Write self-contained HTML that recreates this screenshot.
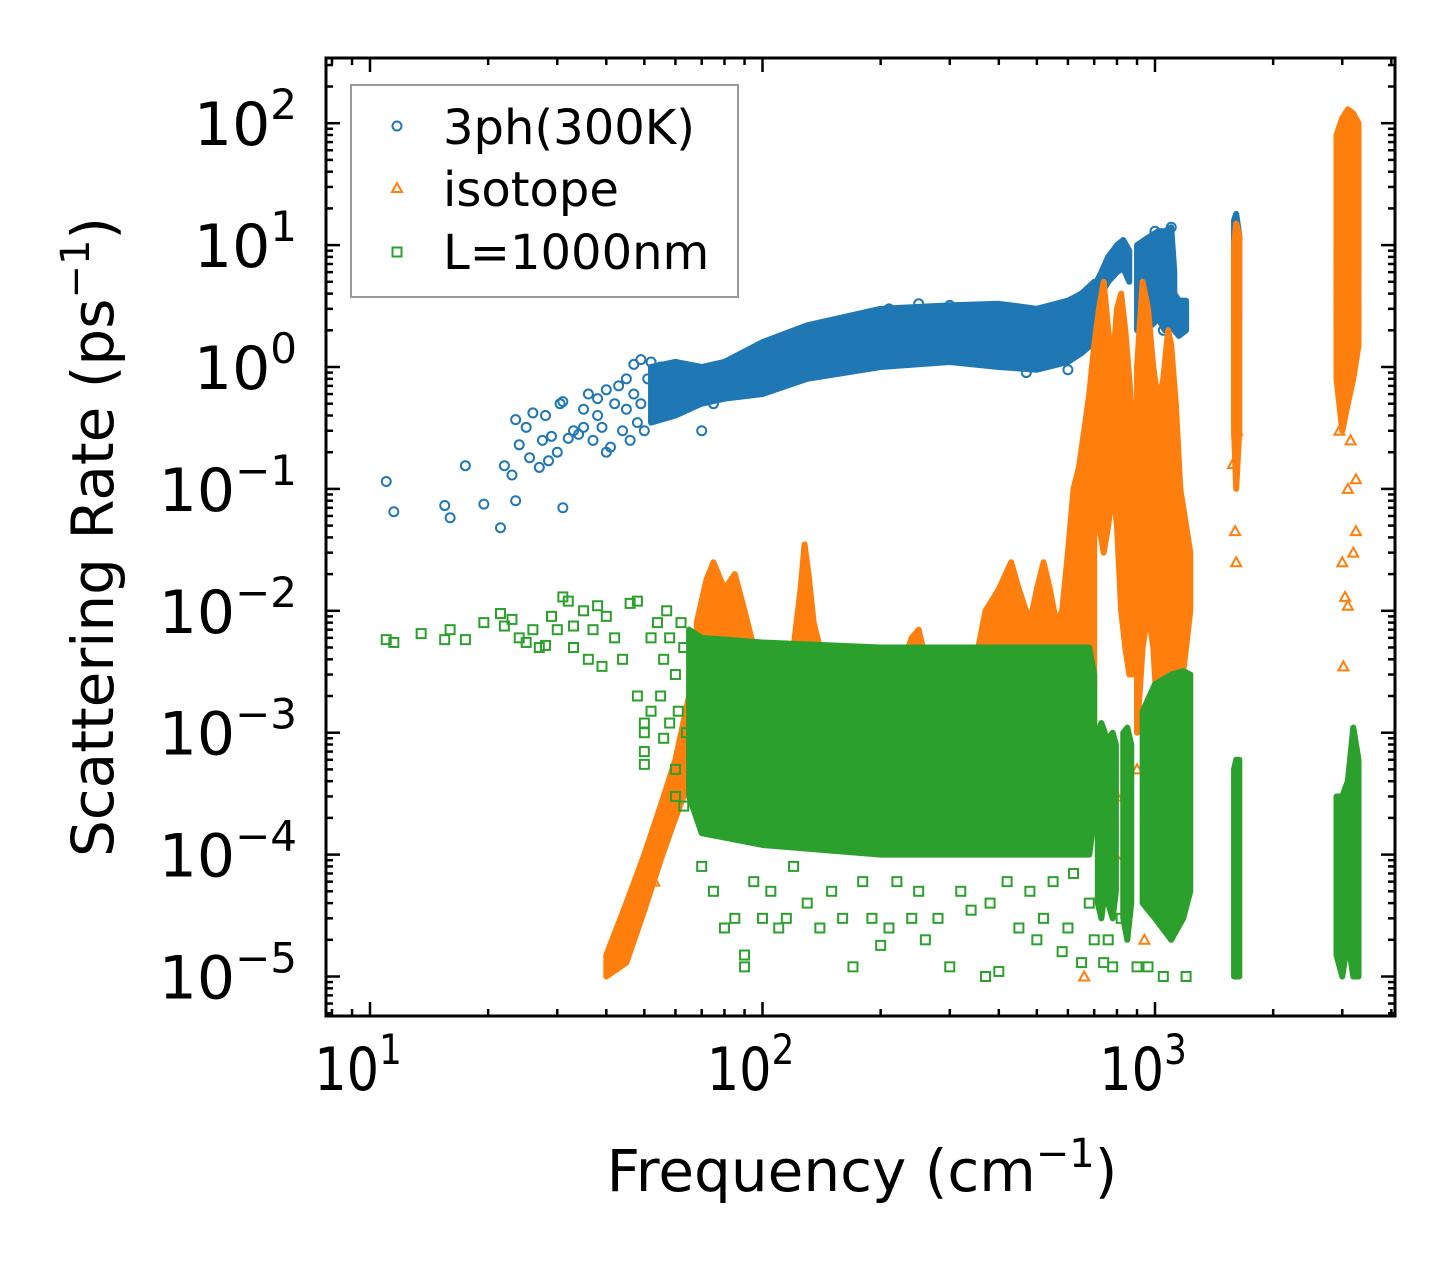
<!DOCTYPE html>
<html><head><meta charset="utf-8"><style>
html,body{margin:0;padding:0;background:#fff;}
svg{display:block;font-family:"DejaVu Sans","Liberation Sans",sans-serif;}
</style></head><body>
<svg id="chart" width="1455" height="1265" viewBox="0 0 1455 1265" xmlns="http://www.w3.org/2000/svg">
<rect width="1455" height="1265" fill="#fff"/>
<defs><clipPath id="plotclip"><rect x="326" y="58" width="1069" height="958"/></clipPath></defs>
<g id="marks" clip-path="url(#plotclip)"></g>
<g id="axes"></g>
<g id="legend">
<rect x="351" y="85" width="387" height="212" fill="#fff" stroke="#999" stroke-width="2"/>
<circle cx="397" cy="126" r="4.5" fill="none" stroke="#1f77b4" stroke-width="2"/>
<text x="443" y="144" font-size="48">3ph(300K)</text>
<polygon points="397,183 402,192 392,192" fill="none" stroke="#ff7f0e" stroke-width="2"/>
<text x="443" y="206" font-size="48">isotope</text>
<rect x="392.5" y="247.5" width="9" height="9" fill="none" stroke="#2ca02c" stroke-width="2"/>
<text x="443" y="269" font-size="48">L=1000nm</text>
</g>
</svg>
<script>
// ---- data ----
const blueBandF  = [52,60,70,80,100,130,200,300,400,500,600,650,700];
const blueBandHi = [1.0,1.1,1.0,1.1,1.6,2.2,3.0,3.2,3.3,3.0,3.5,4.0,5.0];
const blueBandLo = [0.35,0.4,0.5,0.55,0.6,0.8,1.0,1.1,1.0,0.95,1.1,1.3,1.6];
const blueSpikes = [
  {f:[710,730,760,800,830,860], hi:[5,6,8,10,11,9], lo:[3,4,5,6,6.5,5]},
  {f:[900,940,980,1020,1060,1100,1120], hi:[10,11,12,13,13,14,6], lo:[2,2.5,2.2,2.5,2.0,2.2,2]},
  {f:[1120,1150,1200], hi:[4,3.5,3.5], lo:[2,1.8,2]},
  {f:[1590,1610,1640], hi:[16,18,12], lo:[2,2,2.5]},
  {f:[2900,3000,3100,3200,3300], hi:[10,12,15,10,6], lo:[2,1.5,2,3,4]}
];
const bluePts = [[11,0.115],[11.5,0.065],[15.5,0.073],[16,0.058],[17.5,0.155],[19.5,0.075],[21.5,0.048],[22,0.155],[23,0.13],[23.5,0.08],[23.5,0.37],[24,0.23],[25,0.32],[25.5,0.18],[26,0.42],[27,0.15],[27.5,0.25],[28,0.4],[28.5,0.17],[29,0.27],[30,0.2],[30.5,0.5],[31,0.07],[31,0.52],[32,0.26],[33,0.3],[34,0.28],[35,0.32],[35,0.45],[36,0.6],[37,0.25],[38,0.4],[38,0.55],[39,0.32],[40,0.2],[40,0.65],[41,0.22],[42,0.5],[43,0.7],[44,0.3],[45,0.8],[45,0.45],[46,0.25],[47,1.05],[47,0.6],[48,0.35],[49,1.15],[49,0.5],[50,0.3],[51,0.8],[52,1.1],[55,1.0],[70,0.3],[60,1.05],[75,0.5],[90,1.2],[110,1.6],[150,2.3],[210,3.0],[250,3.3],[300,3.2],[470,0.9],[600,0.95],[650,3.8],[700,0.95],[1000,13],[1100,14],[1050,2.0],[1170,2.3]];
const orangeBands = [
  {f:[40,45,50,55,60,65,68], hi:[1.5e-5,4e-5,1e-4,2.5e-4,6e-4,2e-3,6e-3], lo:[1e-5,1.3e-5,3.5e-5,9e-5,2e-4,4e-4,6e-4]},
  {f:[68,72,75,80,85,90,95,100,110,120,125,128,131,135,140,150,170,200,230,240,250,260,280,300,350,370,400,430,450,480,500,520,540,560,580,600,620,640,660,680,700],
   hi:[8e-3,1.8e-2,2.5e-2,1.5e-2,2e-2,1e-2,5e-3,4e-3,4e-3,5e-3,1.5e-2,3.5e-2,2e-2,8e-3,5e-3,4e-3,4e-3,4e-3,4e-3,6e-3,7e-3,4e-3,4e-3,4e-3,4e-3,1e-2,1.5e-2,2.5e-2,1.5e-2,8e-3,1.5e-2,2.5e-2,1.5e-2,8e-3,1e-2,3e-2,0.1,0.15,0.3,0.6,1.5],
   lo:[5e-4,3e-4,3e-4,2e-4,2e-4,2e-4,2e-4,2e-4,2e-4,2e-4,2e-4,2e-4,2e-4,2e-4,2e-4,2e-4,2e-4,2e-4,2e-4,2e-4,2e-4,2e-4,2e-4,2e-4,2e-4,2e-4,2e-4,2e-4,2e-4,2e-4,2e-4,2e-4,2e-4,2e-4,2e-4,2e-4,2e-4,2e-4,2e-4,2e-4,2e-4]},
  {f:[700,720,740,760,780,800,820,840,860,880], hi:[1.5,3,5,2,1,3,4,2,0.8,0.3], lo:[0.08,0.05,0.03,0.05,0.1,0.05,0.01,0.005,0.003,0.003]},
  {f:[900,930,960,990,1020,1050,1080,1100,1130,1160,1200,1230], hi:[1,5,3,1,0.5,0.8,2,1.5,0.5,0.1,0.05,0.03], lo:[1e-3,5e-3,1e-2,5e-3,1e-3,2e-3,1e-3,3e-4,3e-4,2e-3,5e-3,1e-2]},
  {f:[1590,1610,1640], hi:[10,15,12], lo:[0.3,0.1,0.3]},
  {f:[2900,3000,3100,3200,3300], hi:[80,110,130,120,100], lo:[0.8,0.3,0.5,0.8,1.5]}
];
const orangePts = [[42,1.3e-5],[44,2.5e-5],[47,4e-5],[52,1.2e-4],[55,1.8e-4],[58,3e-4],[48,6e-5],[50,9e-5],[53,6e-5],[790,1e-4],[800,3e-4],[780,2e-4],[900,5e-4],[1020,2e-4],[940,2e-5],[660,1e-5],[950,2e-4],[1600,0.045],[1610,0.025],[1580,0.16],[1620,0.3],[3000,0.025],[3050,0.013],[3100,0.011],[3020,3.5e-3],[3200,0.03],[3250,0.045],[3150,0.25],[3100,0.1],[2950,0.3],[3250,0.12]];
const greenBands = [
  {f:[65,70,100,200,400,600,680,700], hi:[7e-3,6e-3,5.5e-3,5e-3,5e-3,5e-3,5e-3,3e-3], lo:[3e-4,1.5e-4,1.2e-4,1e-4,1e-4,1e-4,1e-4,2e-4]},
  {f:[715,730,745], hi:[1e-3,1.2e-3,1e-3], lo:[4e-5,3e-5,5e-5]},
  {f:[760,780,795], hi:[9e-4,1e-3,8e-4], lo:[4e-5,3e-5,5e-5]},
  {f:[830,850,870], hi:[1e-3,1.1e-3,8e-4], lo:[3e-5,2e-5,4e-5]},
  {f:[930,1000,1100,1180,1230], hi:[1.5e-3,2.5e-3,3e-3,3.2e-3,3e-3], lo:[4e-5,3e-5,2e-5,3e-5,5e-5]},
  {f:[1590,1610,1640], hi:[5e-4,6e-4,6e-4], lo:[1e-5,1e-5,1e-5]},
  {f:[2900,3000,3100,3200,3300], hi:[3e-4,3e-4,4e-4,1.1e-3,6e-4], lo:[1.5e-5,1e-5,2e-5,1e-5,1e-5]}
];
const greenPts = [[11,5.8e-3],[11.5,5.5e-3],[13.5,6.5e-3],[15.5,5.8e-3],[16,7e-3],[17.5,5.8e-3],[19.5,8e-3],[21.5,9.5e-3],[22,7.5e-3],[23,8.5e-3],[24,6e-3],[25,5.5e-3],[26,7e-3],[27,5e-3],[28,5.2e-3],[29,9e-3],[30,7e-3],[31,1.3e-2],[32,1.2e-2],[33,7.5e-3],[33,5e-3],[35,1e-2],[36,4e-3],[37,7e-3],[38,1.1e-2],[39,3.5e-3],[40,9e-3],[42,6e-3],[44,4e-3],[46,1.15e-2],[48,1.2e-2],[48,2e-3],[50,1e-3],[50,1.2e-3],[50,5.5e-4],[50,7e-4],[52,1.5e-3],[55,2e-3],[56,9e-4],[57,1e-2],[60,5e-4],[60,3e-4],[62,8e-3],[63,2.5e-4],[52,6e-3],[54,8e-3],[56,4e-3],[58,6e-3],[60,3e-3],[61,1.5e-3],[63,5e-3],[64,1e-3],[58,1.2e-3],
[70,8e-5],[75,5e-5],[80,2.5e-5],[85,3e-5],[90,1.5e-5],[90,1.2e-5],[95,6e-5],[100,3e-5],[105,5e-5],[110,2.5e-5],[115,3e-5],[120,8e-5],[130,4e-5],[140,2.5e-5],[150,5e-5],[160,3e-5],[170,1.2e-5],[180,6e-5],[190,3e-5],[200,1.8e-5],[210,2.5e-5],[220,6e-5],[240,3e-5],[250,5e-5],[260,2e-5],[280,3e-5],[300,1.2e-5],[320,5e-5],[340,3.5e-5],[370,1e-5],[380,4e-5],[400,1.1e-5],[420,6e-5],[450,2.5e-5],[480,5e-5],[500,2e-5],[520,3e-5],[550,6e-5],[580,1.6e-5],[600,2.5e-5],[620,7e-5],[650,1.3e-5],[680,4e-5],[700,2e-5],[740,1.3e-5],[780,1.2e-5],[820,3e-5],[900,1.2e-5],[960,1.2e-5],[1050,1e-5],[1200,1e-5],[760,2e-5]];

const X0=370, XD=392.5, Y0=367, YD=121.9;
function xs(f){return X0+(Math.log10(f)-1)*XD;}
function ys(v){return Y0-Math.log10(v)*YD;}

const NS="http://www.w3.org/2000/svg";
const marks=document.getElementById('marks');
function mk(tag,attrs,parent){const e=document.createElementNS(NS,tag);for(const k in attrs)e.setAttribute(k,attrs[k]);parent.appendChild(e);return e;}

function drawBand(b,color,name){
  let pts=[];
  for(let i=0;i<b.f.length;i++)pts.push(xs(b.f[i])+','+ys(b.hi[i]));
  for(let i=b.f.length-1;i>=0;i--)pts.push(xs(b.f[i])+','+ys(b.lo[i]));
  const p=mk('polygon',{points:pts.join(' '),fill:color,stroke:color,'stroke-width':6,'stroke-linejoin':'round'},marks);
  
  
}
function drawPt(d,color,shape,name){
  const x=xs(d[0]),y=ys(d[1]);let e;
  if(shape==='c')e=mk('circle',{cx:x,cy:y,r:4.5,fill:'none',stroke:color,'stroke-width':2},marks);
  else if(shape==='t')e=mk('polygon',{points:`${x},${y-5} ${x+5},${y+4} ${x-5},${y+4}`,fill:'none',stroke:color,'stroke-width':2},marks);
  else e=mk('rect',{x:x-4.5,y:y-4.5,width:9,height:9,fill:'none',stroke:color,'stroke-width':2},marks);
  
  
}
const B='#1f77b4',O='#ff7f0e',G='#2ca02c';
drawBand({f:blueBandF,hi:blueBandHi,lo:blueBandLo},B,'3ph-band');
blueSpikes.forEach(b=>drawBand(b,B,'3ph-spike'));
bluePts.forEach(d=>drawPt(d,B,'c','3ph-point'));
orangeBands.forEach(b=>drawBand(b,O,'isotope-band'));
orangePts.forEach(d=>drawPt(d,O,'t','isotope-point'));
greenBands.forEach(b=>drawBand(b,G,'boundary-band'));
greenPts.forEach(d=>drawPt(d,G,'s','boundary-point'));

// ---- axes ----
const axes=document.getElementById('axes');
const L=326,R=1395,T=58,Bt=1016;
const frame=mk('rect',{x:L,y:T,width:R-L,height:Bt-T,fill:'none',stroke:'#000','stroke-width':3},axes);


const xTickExp=[1,2,3];
const yTickExp=[2,1,0,-1,-2,-3,-4,-5];
for(let d=0;d<=3;d++)for(let m=1;m<=9;m++){
  const f=m*Math.pow(10,d);const x=xs(f);if(x<L+1||x>R-1)continue;
  const len=m===1?14:7;
  mk('line',{x1:x,y1:Bt,x2:x,y2:Bt-len,stroke:'#000','stroke-width':2.5},axes);
  mk('line',{x1:x,y1:T,x2:x,y2:T+len,stroke:'#000','stroke-width':2.5},axes);
}
for(let d=-6;d<=2;d++)for(let m=1;m<=9;m++){
  const v=m*Math.pow(10,d);const y=ys(v);if(y<T+1||y>Bt-1)continue;
  const len=m===1?14:7;
  mk('line',{x1:L,y1:y,x2:L+len,y2:y,stroke:'#000','stroke-width':2.5},axes);
  mk('line',{x1:R,y1:y,x2:R-len,y2:y,stroke:'#000','stroke-width':2.5},axes);
}
xTickExp.forEach(e=>{
  const cx=xs(Math.pow(10,e));
  const t=mk('text',{x:0,y:0,'font-size':60,'text-anchor':'middle',transform:`translate(${cx-12},1090) scale(0.85,1)`},axes);
  
  
  t.innerHTML='10<tspan dy="-26" font-size="42">'+e+'</tspan>';
});
yTickExp.forEach(e=>{
  const t=mk('text',{x:297,y:ys(Math.pow(10,e))+22,'font-size':60,'text-anchor':'end'},axes);
  
  
  t.innerHTML='10<tspan dy="-26" font-size="42">'+(e<0?'\u2212'+(-e):e)+'</tspan>';
});
const xl=mk('text',{x:0,y:0,'font-size':58,'text-anchor':'middle',transform:'translate(862,1191)'},axes);


xl.innerHTML='Frequency (cm<tspan dy="-24" font-size="40">\u22121</tspan><tspan dy="24">)</tspan>';
const yl=mk('text',{x:0,y:0,'font-size':58,'text-anchor':'middle',transform:'translate(113,537) rotate(-90)'},axes);


yl.innerHTML='Scattering Rate (ps<tspan dy="-24" font-size="40">\u22121</tspan><tspan dy="24">)</tspan>';
</script>
</body></html>
